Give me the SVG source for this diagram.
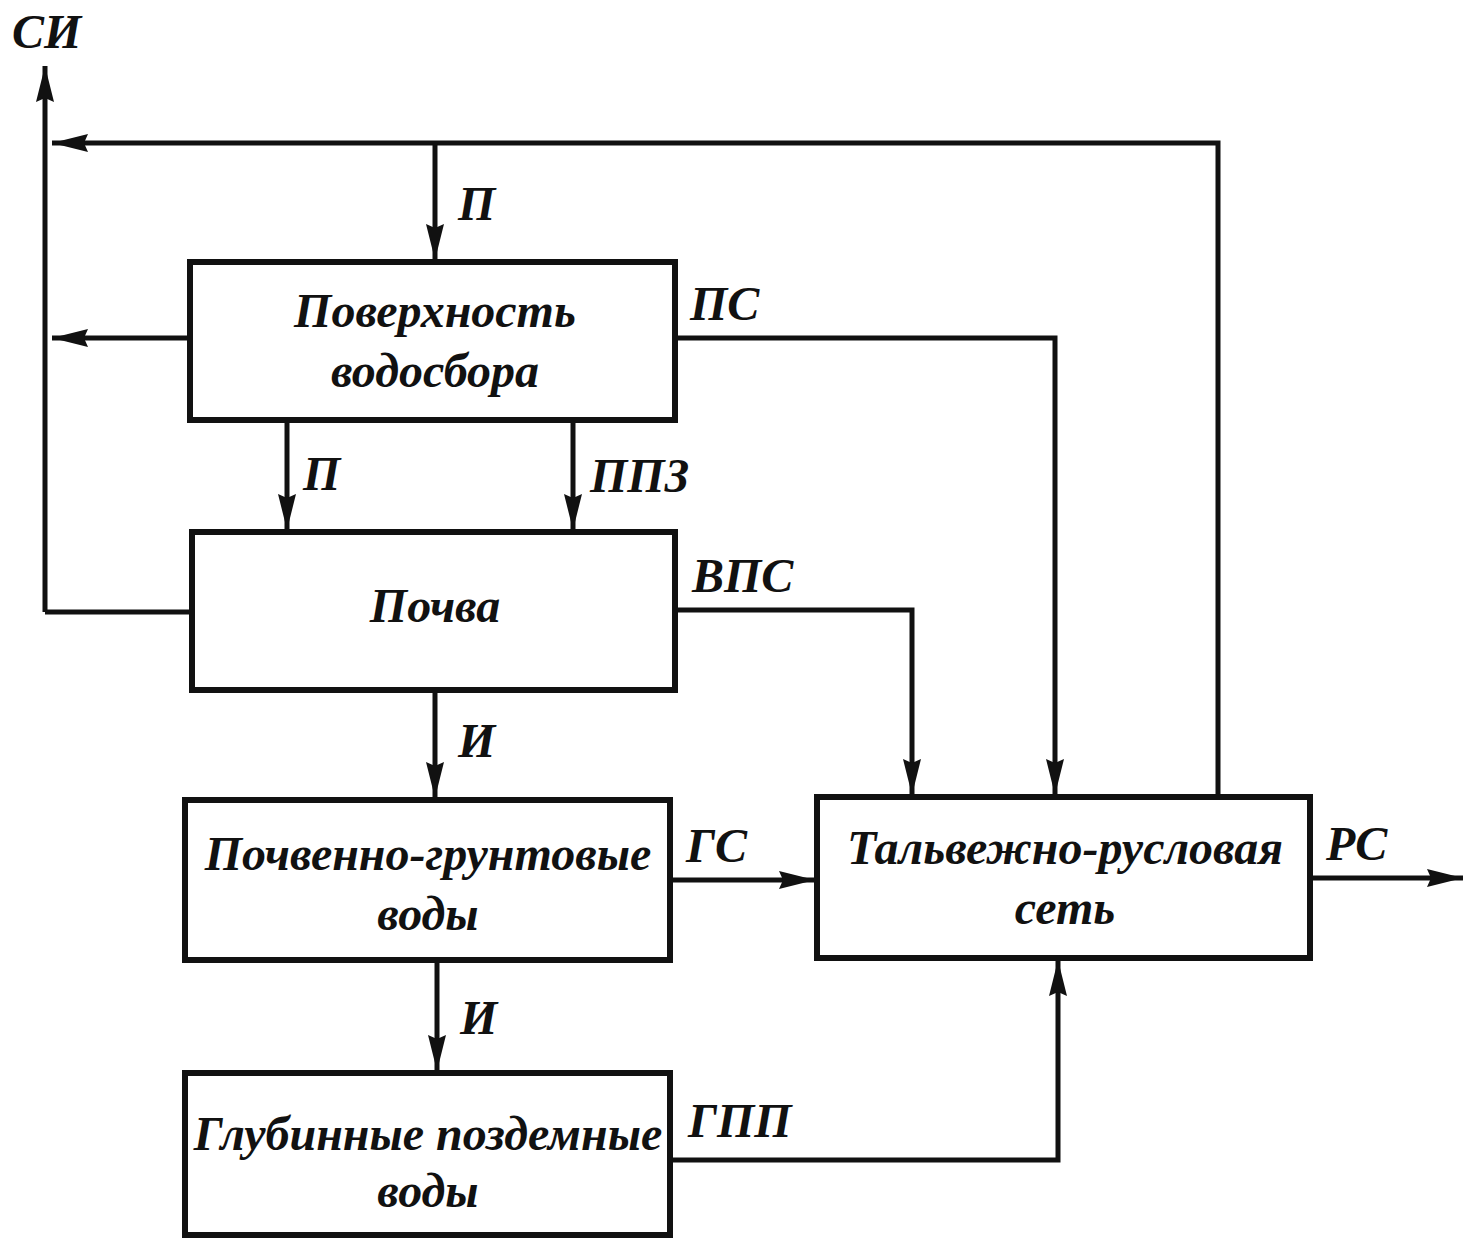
<svg xmlns="http://www.w3.org/2000/svg" width="1465" height="1239" viewBox="0 0 1465 1239">
<style>
.box{fill:#fff;stroke:#111;stroke-width:6}
.ln{fill:none;stroke:#111;stroke-width:5}
.t{font-family:"Liberation Serif",serif;font-style:italic;font-weight:bold;font-size:48px;fill:#111}
.c{text-anchor:middle}
</style>
<defs>
<marker id="ah" viewBox="0 0 36 18" refX="36" refY="9" markerWidth="36" markerHeight="18" markerUnits="userSpaceOnUse" orient="auto">
<path d="M0,0 L36,9 L0,18 L4,9 Z" fill="#111"/>
</marker>
</defs>
<rect width="1465" height="1239" fill="#fff"/>
<g id="connectors">
<path class="ln" d="M45,612 V66" marker-end="url(#ah)"/>
<path class="ln" d="M1218,797 V143 H52" marker-end="url(#ah)"/>
<path class="ln" d="M435,143 V260" marker-end="url(#ah)"/>
<path class="ln" d="M190,338 H52" marker-end="url(#ah)"/>
<path class="ln" d="M190,612 H45"/>
<path class="ln" d="M675,338 H1055 V795" marker-end="url(#ah)"/>
<path class="ln" d="M287,420 V530" marker-end="url(#ah)"/>
<path class="ln" d="M573,420 V530" marker-end="url(#ah)"/>
<path class="ln" d="M675,610 H912 V795" marker-end="url(#ah)"/>
<path class="ln" d="M435,690 V798" marker-end="url(#ah)"/>
<path class="ln" d="M670,880 H815" marker-end="url(#ah)"/>
<path class="ln" d="M437,960 V1071" marker-end="url(#ah)"/>
<path class="ln" d="M670,1160 H1058 V960" marker-end="url(#ah)"/>
<path class="ln" d="M1310,878 H1463" marker-end="url(#ah)"/>
</g>
<g id="labels">
<text class="t" x="12" y="48">СИ</text>
<text class="t" x="458" y="220">П</text>
<text class="t" x="690" y="320">ПС</text>
<text class="t" x="303" y="490">П</text>
<text class="t" x="590" y="492">ППЗ</text>
<text class="t" x="692" y="592">ВПС</text>
<text class="t" x="458" y="757">И</text>
<text class="t" x="686" y="862">ГС</text>
<text class="t" x="1326" y="860">РС</text>
<text class="t" x="460" y="1034">И</text>
<text class="t" x="688" y="1137">ГПП</text>
</g>
<g id="n1">
<rect class="box" x="190" y="262" width="485" height="158"/>
<text class="t c" x="435" y="327">Поверхность</text>
<text class="t c" x="435" y="387">водосбора</text>
</g>
<g id="n2">
<rect class="box" x="192" y="532" width="483" height="158"/>
<text class="t c" x="435" y="622">Почва</text>
</g>
<g id="n3">
<rect class="box" x="185" y="800" width="485" height="160"/>
<text class="t c" x="428" y="870">Почвенно-грунтовые</text>
<text class="t c" x="428" y="930">воды</text>
</g>
<g id="n4">
<rect class="box" x="185" y="1073" width="485" height="162"/>
<text class="t c" x="428" y="1150">Глубинные поздемные</text>
<text class="t c" x="428" y="1207">воды</text>
</g>
<g id="n5">
<rect class="box" x="817" y="797" width="493" height="161"/>
<text class="t c" x="1065" y="864">Тальвежно-русловая</text>
<text class="t c" x="1065" y="924">сеть</text>
</g>
</svg>
